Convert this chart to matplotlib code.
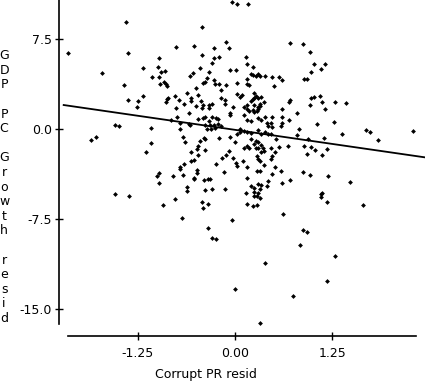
import matplotlib
matplotlib.use("Agg")
import matplotlib.pyplot as plt
import numpy as np

# residuals (x: Corrupt PR resid, y: GDP PC Growth resid)
corrupt_resid = [
    -0.04, 0.03, -1.40, -0.42, -2.14, -1.38, -0.76, -0.52, -0.27, -0.11,
    -0.08, -0.42, -0.97, -0.27, -0.21, -0.29, -1.71, -1.18, -0.99, -0.95,
    -0.90, -0.45, -0.54, -0.58, -0.34, -0.06, 0.01, -1.07, -0.97, -0.36,
    -0.27, -0.39, -0.41, -0.91, -0.88, -0.96, -0.87, -1.43, -0.26, -0.21,
    -0.11, 0.02, -0.50, -0.18, -0.62, -0.48, 0.03, 0.09, 0.06, -1.18,
    -1.38, -1.24, -1.26, -0.86, -0.77, -0.72, -0.56, -0.89, -0.57, -0.44,
    -0.65, -0.50, -0.41, -0.33, -0.29, -0.18, -0.13, -0.13, -0.76, -0.43,
    -0.34, -0.03, -0.87,
    0.17, 0.70, 0.87, 0.96, 0.14, 0.15, 0.23, 1.01, 1.16, 1.10,
    0.97, 0.20, 0.23, 0.29, 0.32, 0.27, 0.39, 0.47, 0.57, 0.60,
    0.88, 0.93, 0.16, 0.16, 0.18, 0.50, 0.25, 0.27, 0.23, 0.20,
    0.25, 0.30, 0.34, 0.37, 0.32, 0.32, 0.24, 0.16, 0.16, 0.29,
    0.70, 0.69, 0.97, 1.02, 1.09, 1.12, 1.29, 1.42, 0.96, 1.15,
    0.61,
    0.79, 0.69, 0.61, 1.05, 1.27, 0.82, 0.79, 1.37, 1.68, 1.74,
    2.28, 1.84, 1.14, 0.94, 0.68, 0.88, 0.97, 1.03, 1.18, 0.93,
    1.12, 0.59, 0.61, 0.70, 0.87, 0.96, 1.20, 1.48, 1.10, 1.12,
    1.11, 1.18, 1.64, 0.62, 0.87, 0.93, 0.83, 1.28, 1.18, 0.75,
    0.12, 0.18, 0.23, 0.25, 0.28, 0.30, 0.11, 0.15, 0.21, 0.30,
    0.33, 0.38, 0.48, 0.41, 0.46, 0.48, 0.43, 0.60, 0.59, 0.07,
    0.12, 0.16, 0.21, 0.30, 0.33, 0.38, 0.43, 0.46, 0.53, 0.21,
    0.27, 0.24, 0.30, 0.33, 0.36, 0.15, 0.12, 0.18, 0.27, 0.30,
    0.37, 0.33, 0.28, 0.29, 0.32, 0.46, 0.47, 0.46, 0.56, 0.51,
    0.10, 0.16, 0.28, 0.32, 0.37, 0.51, 0.47, 0.16, 0.43, 0.41,
    0.34, 0.29, 0.20, 0.25, 0.32, 0.14, 0.25, 0.30, 0.28, 0.25,
    0.32, 0.15, 0.23, 0.28,
    -0.59, -0.75, -0.82, -0.47, -0.41, -0.39, -0.34, -0.29, -0.25, -0.22,
    -0.07, -0.06, -0.71, -0.59, -0.58, -0.38, -0.32, -0.27, -0.22, -0.18,
    -0.36, -0.31, -0.26, -0.70, -1.54, -1.49, -1.08, -1.85, -1.79, -1.08,
    -1.14, -0.67, -0.64, -0.45, -0.40, -0.38, -0.47, -0.49, -0.57, -0.47,
    -0.38, -0.21, -0.07, 0.00, 0.02, 0.06, -0.08, -0.12, -0.17, -0.02,
    0.01, 0.03, -0.25, -0.14, -0.53, -0.56, -0.66, -0.71, -0.70, -0.49,
    -0.49, -0.52, -0.53, -0.40, -0.35, -0.32, -0.98, -1.00, -0.97, -0.79,
    -0.67, -0.62, -0.61, -0.39, -0.29, -0.13, -1.54, -1.36, -0.77, -0.93,
    -0.43, -0.35, -0.41, -0.68, -0.04, -0.35, -0.30, -0.25, 0.00, 0.38,
    0.32,
]

gdp_resid = [
    10.61, 10.42, 8.94, 8.53, 6.36, 6.36, 6.86, 6.94, 6.78, 7.28,
    6.78, 6.19, 5.94, 5.94, 6.03, 5.53, 4.69, 5.11, 5.19, 4.78,
    4.86, 5.11, 4.69, 4.44, 4.78, 4.94, 4.94, 4.36, 4.36, 4.28,
    4.08, 3.94, 3.86, 3.94, 3.72, 3.78, 3.58, 3.67, 3.72, 3.78,
    3.67, 3.86, 3.42, 3.28, 3.03, 2.86, 2.94, 2.83, 2.69, 2.75,
    2.39, 2.31, 1.86, 2.61, 2.75, 2.44, 2.61, 2.28, 2.31, 2.36,
    2.11, 1.92, 2.03, 2.03, 2.11, 2.61, 2.44, 2.06, 1.78, 1.72,
    1.72, 1.86, 2.50,
    10.44, 7.19, 7.11, 6.44, 6.03, 5.44, 5.19, 5.44, 5.44, 5.03,
    4.78, 4.61, 4.53, 4.61, 4.44, 4.44, 4.44, 4.36, 4.36, 4.11,
    4.19, 4.19, 4.19, 3.78, 3.69, 3.61, 3.03, 2.78, 2.53, 2.36,
    2.61, 2.61, 2.69, 2.28, 2.11, 1.94, 2.03, 2.03, 1.69, 1.69,
    2.44, 2.28, 2.61, 2.69, 2.78, 2.28, 2.28, 2.19, 2.03, 1.69,
    1.69,
    1.36, 0.78, 1.03, 0.44, 0.61, 0.03, -0.47, -0.39, -0.06, -0.22,
    -0.14, -0.89, -0.72, -0.81, -1.39, -1.39, -1.47, -1.72, -1.64, -2.06,
    -2.14, -3.47, -4.47, -4.22, -3.56, -3.81, -3.89, -4.39, -5.42, -5.36,
    -5.69, -6.06, -6.31, -7.06, -8.44, -8.56, -9.64, -10.56, -12.64, -13.94,
    1.86, 1.53, 1.61, 1.44, 1.53, 1.86, 1.19, 0.78, 0.69, 0.94,
    0.78, 1.03, 1.03, 0.53, 0.53, 0.19, 0.28, 0.53, 0.28, 0.03,
    -0.14, -0.22, -0.31, -0.06, -0.39, -0.22, -0.39, -0.39, -0.81, -0.81,
    -0.97, -1.22, -1.06, -1.31, -1.56, -1.39, -1.56, -1.56, -1.56, -1.56,
    -1.81, -1.89, -2.22, -2.47, -2.64, -1.56, -2.22, -2.47, -1.47, -1.89,
    -2.64, -3.14, -3.47, -3.47, -2.97, -3.14, -3.72, -4.06, -4.31, -4.72,
    -4.64, -4.56, -4.72, -4.89, -4.97, -5.31, -5.22, -5.31, -5.56, -5.56,
    -5.72, -6.22, -6.39, -6.31,
    1.36, 1.03, 0.78, 0.86, 0.94, 1.03, 0.69, 1.03, 0.94, 0.86,
    1.36, 1.19, 0.53, 0.44, 0.36, 0.36, 0.36, 0.36, 0.44, 0.28,
    0.03, 0.03, 0.11, 0.03, 0.36, 0.28, 0.11, -0.89, -0.64, -1.14,
    -1.89, -0.64, -1.06, -0.97, -0.72, -0.81, -1.39, -1.64, -1.89, -2.14,
    -1.72, -0.72, -0.64, -1.06, -0.39, -0.22, -1.81, -2.14, -2.39, -2.39,
    -2.81, -3.06, -2.89, -3.56, -2.56, -2.64, -2.89, -3.14, -3.31, -3.39,
    -3.64, -4.06, -4.14, -4.22, -4.14, -4.14, -3.64, -3.89, -4.47, -3.89,
    -3.81, -4.81, -5.14, -5.06, -4.97, -4.97, -5.39, -5.56, -5.81, -6.31,
    -6.06, -6.22, -6.56, -7.39, -7.56, -8.22, -9.06, -9.14, -13.31, -11.14,
    -16.14,
]

# fitted line as it appears in the picture
fit_slope = -0.94
fit_intercept = -0.07

x_ticks = [-1.25, 0.0, 1.25]
x_ticklabels = ["-1.25", "0.00", "1.25"]
y_ticks = [7.5, 0.0, -7.5, -15.0]
y_ticklabels = ["7.5", "0.0", "-7.5", "-15.0"]

x_label = "Corrupt PR resid"
y_label = "GDP PC Growth resid"

fig = plt.figure(figsize=(4.25, 3.81), dpi=100)
ax = fig.add_axes([59 / 425, 45 / 381, 366 / 425, 336 / 381])

ax.set_xlim(-2.26, 2.44)
ax.set_ylim(-17.25, 10.75)

ax.scatter(corrupt_resid, gdp_resid, s=6, marker="D", color="black", linewidths=0, zorder=3)

line_x = np.array([-2.2, ax.get_xlim()[1]])
ax.plot(line_x, fit_intercept + fit_slope * line_x, color="black", lw=1.3, zorder=2)

# detached axes like the original stats package output
for side in ["top", "right"]:
    ax.spines[side].set_visible(False)
ax.spines["left"].set_bounds(-16.25, 10.75)
ax.spines["bottom"].set_bounds(-2.14, 2.33)
ax.spines["left"].set_linewidth(1.2)
ax.spines["bottom"].set_linewidth(1.2)

ax.set_xticks(x_ticks)
ax.set_xticklabels(x_ticklabels)
ax.set_yticks(y_ticks)
ax.set_yticklabels(y_ticklabels)
ax.tick_params(direction="inout", length=6, width=1, labelsize=9)
ax.tick_params(axis="x", pad=5)
ax.tick_params(axis="y", pad=2)

ax.set_xlabel(x_label, fontsize=9)
ax.xaxis.set_label_coords(0.402, -0.095)
ax.set_ylabel("\n".join(y_label), fontsize=9, rotation=0, ha="center", va="center",
              linespacing=1.16)
ax.yaxis.set_label_coords(-0.15, 0.443)

fig.savefig("out.png", dpi=100)
